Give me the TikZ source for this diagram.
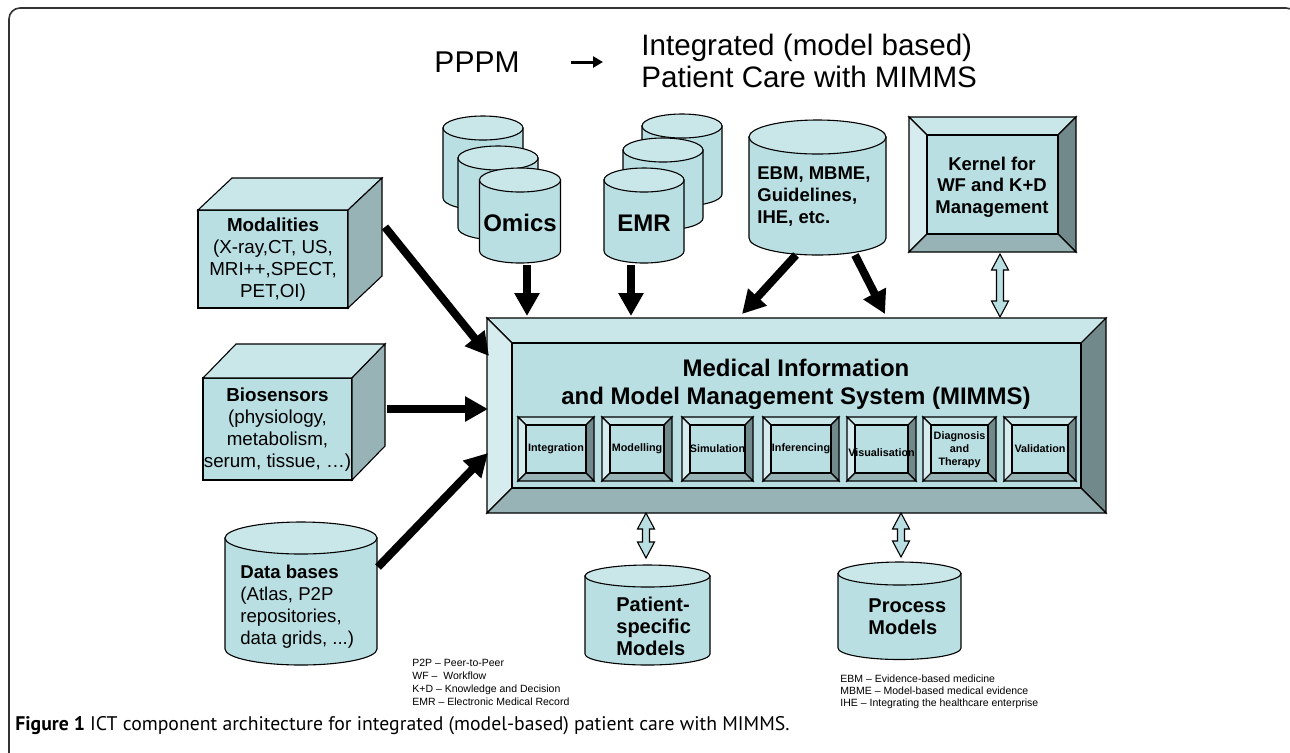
\documentclass[tikz,border=0pt]{standalone}
\usepackage{fontspec}
\setmainfont{Liberation Sans}
\newfontfamily\capfont{PT Sans}
\usetikzlibrary{arrows.meta,calc}
\definecolor{cfront}{HTML}{B9DFE3}
\definecolor{ctop}{HTML}{C9E6E9}
\definecolor{cleft}{HTML}{D6ECEF}
\definecolor{cmid}{HTML}{97B3B6}
\definecolor{cdark}{HTML}{72898B}
\definecolor{cframe}{HTML}{333333}
\tikzset{
  outl/.style={draw=black, line width=0.55pt, line join=miter},
  cylbody/.style={outl, fill=cfront},
  cyltop/.style={outl, fill=ctop},
  bvtop/.style={outl, fill=ctop},
  bvleft/.style={outl, fill=cleft},
  bvright/.style={outl, fill=cdark},
  bvbot/.style={outl, fill=cmid},
  bvface/.style={outl, fill=cfront},
  cubefront/.style={outl, fill=cfront},
  cubetop/.style={outl, fill=ctop},
  cuberight/.style={outl, fill=cmid},
  hollowarrow/.style={outl, fill=cfront},
  bigarrow/.style={draw=black, line width=4pt, -{Triangle[length=11.5pt,width=12pt]}},
  titlearrow/.style={draw=black, line width=1.5pt, -{Triangle[length=5pt,width=5.5pt]}},
  txt/.style={inner sep=0pt, align=center},
  txtl/.style={inner sep=0pt, align=left},
  subtxt/.style={inner sep=0pt, align=center, font=\fontsize{5.4}{6.5}\selectfont\bfseries},
}
\newcommand{\mycyl}[5]{%
  \filldraw[cylbody] ({#1-#2},#3) -- ({#1-#2},#4) arc[start angle=180,end angle=0,x radius=#2,y radius=#5] -- ({#1+#2},#3) -- cycle;
  \filldraw[cyltop] (#1,#3) ellipse[x radius=#2,y radius=#5];
}
\newcommand{\mybevel}[5]{%
  \filldraw[bvtop] (#1,#2) -- (#3,#2) -- ({#3-#5},{#2+#5}) -- ({#1+#5},{#2+#5}) -- cycle;
  \filldraw[bvleft] (#1,#2) -- ({#1+#5},{#2+#5}) -- ({#1+#5},{#4-#5}) -- (#1,#4) -- cycle;
  \filldraw[bvright] (#3,#2) -- (#3,#4) -- ({#3-#5},{#4-#5}) -- ({#3-#5},{#2+#5}) -- cycle;
  \filldraw[bvbot] (#1,#4) -- (#3,#4) -- ({#3-#5},{#4-#5}) -- ({#1+#5},{#4-#5}) -- cycle;
  \filldraw[bvface] ({#1+#5},{#2+#5}) rectangle ({#3-#5},{#4-#5});
}
\newcommand{\mycube}[6]{%
  \filldraw[cubefront] (#1,#2) rectangle (#3,#4);
  \filldraw[cubetop] (#1,#2) -- ({#1+#5},{#2-#6}) -- ({#3+#5},{#2-#6}) -- (#3,#2) -- cycle;
  \filldraw[cuberight] (#3,#2) -- ({#3+#5},{#2-#6}) -- ({#3+#5},{#4-#6}) -- (#3,#4) -- cycle;
}
\newcommand{\dblarrow}[2]{%
  \filldraw[hollowarrow] (#1) -- ($(#1)+(8.5,16)$) -- ($(#1)+(3.5,16)$) -- ($(#2)+(3.5,-16)$) -- ($(#2)+(8.5,-16)$) -- (#2) -- ($(#2)+(-8.5,-16)$) -- ($(#2)+(-3.5,-16)$) -- ($(#1)+(-3.5,16)$) -- ($(#1)+(-8.5,16)$) -- cycle;
}
\begin{document}
\begin{tikzpicture}[x=0.5pt,y=-0.5pt]
\useasboundingbox (0,0) rectangle (1290,752);
\clip (0,0) rectangle (1290,752);
\fill[white] (0,0) rectangle (1290,752);
% frame
\draw[cframe, line width=0.8pt, rounded corners=5.5pt] (9,8) rectangle (1297,800);

% title
\node[txt, font=\fontsize{15}{16}\selectfont] (pppm) at (477,62) {PPPM};
\node[txtl, anchor=west, font=\fontsize{14.8}{15.75}\selectfont] (goal) at (641,61) {Integrated (model based)\\Patient Care with MIMMS};
\coordinate (tA) at (571,62);
\coordinate (tB) at (603,62);
\draw[titlearrow] (tA) -- (tB);

% Omics stack
\mycyl{483}{40}{128}{198}{12}
\mycyl{498}{40}{158}{228}{12}
\mycyl{520}{40.5}{180}{251}{12}
\node[txt, font=\fontsize{12}{14}\selectfont\bfseries] (omics) at (520,223) {Omics};
% EMR stack
\mycyl{682}{40}{126}{194}{12}
\mycyl{663}{40}{150}{218}{12}
\mycyl{644}{40}{180}{251}{12}
\node[txt, font=\fontsize{12}{14}\selectfont\bfseries] (emr) at (644,223) {EMR};
% EBM cylinder
\mycyl{817.5}{68.5}{137}{238}{17}
\node[txtl, anchor=west, font=\fontsize{9.25}{10.9}\selectfont\bfseries] (ebm) at (757,196.5) {EBM, MBME,\\Guidelines,\\IHE, etc.};
% Kernel
\mybevel{909}{117}{1076}{252}{18}
\node[txt, font=\fontsize{9.25}{10.75}\selectfont\bfseries] (kernel) at (992,187) {Kernel for\\WF and K+D\\Management};

% Modalities cube
\mycube{198}{210}{348}{308}{34}{32}
\node[txt, font=\fontsize{9.4}{11}\selectfont] (modal) at (273,260) {\textbf{Modalities}\\(X-ray,CT, US,\\MRI++,SPECT,\\PET,OI)};
% Biosensors cube
\mycube{203}{378}{352}{480}{33}{34}
\node[txt, font=\fontsize{9.4}{11}\selectfont] (bios) at (277.5,430) {\textbf{Biosensors}\\(physiology,\\metabolism,\\serum, tissue, …)};
% Data bases
\mycyl{301}{76}{538}{649}{16}
\node[txtl, anchor=west, font=\fontsize{9.3}{11.1}\selectfont] (dbs) at (240,606.5) {\textbf{Data bases}\\(Atlas, P2P\\repositories,\\data grids, ...)};

% MIMMS
\mybevel{487}{318}{1106}{513}{25}
\node[txt, font=\fontsize{12}{14}\selectfont\bfseries] (mimms) at (796,384) {Medical Information\\and Model Management System (MIMMS)};
\mybevel{518}{417}{594}{481}{8}
\mybevel{602}{417}{672}{481}{8}
\mybevel{682}{417}{753}{481}{8}
\mybevel{763}{417}{839}{481}{8}
\mybevel{847}{417}{916}{481}{8}
\mybevel{923}{417}{996}{481}{8}
\mybevel{1004}{417}{1076}{481}{8}
\node[subtxt] (sInt) at (556,449) {Integration};
\node[subtxt] (sMod) at (637,449) {Modelling};
\node[subtxt] (sSim) at (717.5,449) {Simulation};
\node[subtxt] (sInf) at (801,449) {Inferencing};
\node[subtxt] (sVis) at (881.5,453) {Visualisation};
\node[subtxt] (sDia) at (959.5,450) {Diagnosis\\and\\Therapy};
\node[subtxt] (sVal) at (1040,449) {Validation};

% Patient-specific and Process models
\mycyl{647.5}{62.5}{576}{654}{11}
\node[txtl, anchor=west, font=\fontsize{10}{11}\selectfont\bfseries] (pat) at (616,626) {Patient-\\specific\\Models};
\mycyl{899.5}{61.5}{573.5}{648}{11.5}
\node[txtl, anchor=west, font=\fontsize{10}{10.7}\selectfont\bfseries] (proc) at (868,616.5) {Process\\Models};

% thick arrows
\coordinate (modOut) at (385,227);   \coordinate (mimA) at (489,356);
\coordinate (omOut) at (527,265);    \coordinate (mimB) at (527,316);
\coordinate (emOut) at (631,265);    \coordinate (mimC) at (631,316);
\coordinate (ebOutL) at (796,255);   \coordinate (mimD) at (742,314);
\coordinate (ebOutR) at (855,255);   \coordinate (mimE) at (885,314);
\coordinate (bioOut) at (387,409);   \coordinate (mimF) at (488,409);
\coordinate (dbOut) at (378,567);    \coordinate (mimG) at (488,453);
\draw[bigarrow] (modOut) -- (mimA);
\draw[bigarrow] (omOut) -- (mimB);
\draw[bigarrow] (emOut) -- (mimC);
\draw[bigarrow] (ebOutL) -- (mimD);
\draw[bigarrow] (ebOutR) -- (mimE);
\draw[bigarrow] (bioOut) -- (mimF);
\draw[bigarrow] (dbOut) -- (mimG);

% hollow double arrows
\coordinate (kerB) at (1000,254);  \coordinate (mimTop) at (1000,317);
\dblarrow{kerB}{mimTop}
\coordinate (mimBotP) at (646,513);  \coordinate (patTop) at (646,558);
\dblarrow{mimBotP}{patTop}
\coordinate (mimBotR) at (901,513);  \coordinate (procTop) at (901,557);
\dblarrow{mimBotR}{procTop}

% footnotes
\node[txtl, anchor=west, font=\fontsize{5.25}{6.45}\selectfont] (fnL) at (412,682.5) {P2P – Peer-to-Peer\\WF –\ \ Workflow\\K+D – Knowledge and Decision\\EMR – Electronic Medical Record};
\node[txtl, anchor=west, font=\fontsize{5.25}{6.1}\selectfont] (fnR) at (840,692) {EBM – Evidence-based medicine\\MBME – Model-based medical evidence\\IHE – Integrating the healthcare enterprise};

% caption
\node[inner sep=0pt, anchor=west, font=\capfont\fontsize{9.85}{11}\selectfont] (cap) at (15,726) {\textbf{Figure 1} ICT component architecture for integrated (model-based) patient care with MIMMS.};
\end{tikzpicture}
\end{document}
